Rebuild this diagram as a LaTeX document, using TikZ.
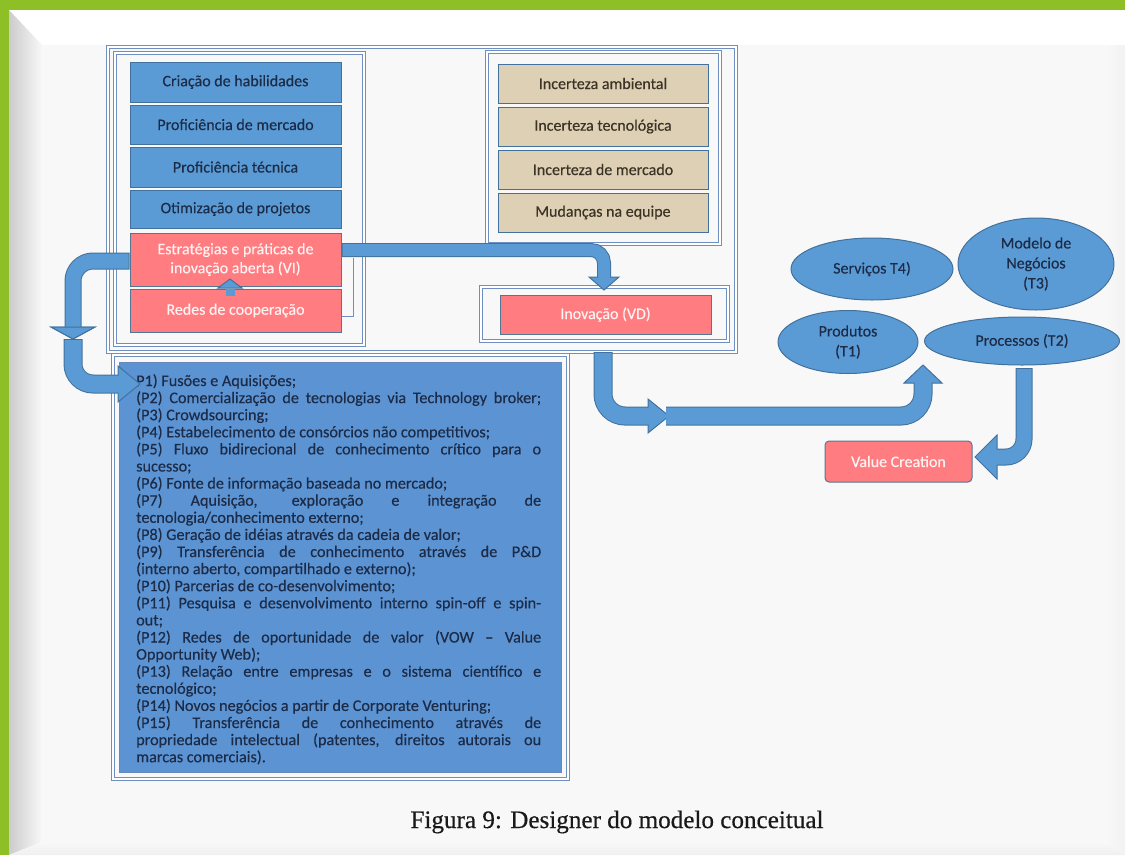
\documentclass[tikz,border=0pt]{standalone}
\usepackage{fontspec}
\setmainfont{Carlito}[FakeBold=0.35]
\newfontfamily\capfont{Liberation Serif}[FakeBold=0.5]
\usetikzlibrary{shapes.geometric,calc}
\definecolor{greenbar}{HTML}{8FBF26}
\definecolor{boxblue}{HTML}{5B9BD5}
\definecolor{bordblue}{HTML}{41719C}
\definecolor{framec}{HTML}{6F8FC0}
\definecolor{boxred}{HTML}{FF7C80}
\definecolor{boxtan}{HTML}{DDD0B5}
\definecolor{navytext}{HTML}{1C2B47}
\definecolor{browntext}{HTML}{3B3326}
\definecolor{redtext}{HTML}{FFF2F2}
\definecolor{pfill}{HTML}{5C94D3}
\definecolor{pagebg}{HTML}{F8F8F8}
\tikzset{
  frame/.style={draw=framec, line width=1pt, double=white, double distance=1.2pt},
  bluebox/.style={rectangle, draw=bordblue, line width=1pt, fill=boxblue, minimum width=211, text=navytext, font=\fontsize{16}{19}\selectfont, inner sep=0pt},
  redbox/.style={rectangle, draw=bordblue!70!gray, line width=1pt, fill=boxred, minimum width=211, text=redtext, font=\fontsize{16}{19}\selectfont, align=center, inner sep=0pt},
  tanbox/.style={rectangle, draw=bordblue, line width=1pt, fill=boxtan, minimum width=210, text=browntext, font=\fontsize{16}{19}\selectfont, inner sep=0pt},
  ell/.style={ellipse, draw=bordblue, line width=1pt, fill=boxblue, text=navytext, font=\fontsize{16}{20}\selectfont, align=center, inner sep=0pt},
  shaftout/.style={draw=bordblue, line cap=butt},
  shaftin/.style={draw=boxblue, line cap=butt},
  headst/.style={fill=boxblue, draw=bordblue, line width=1pt, line join=miter},
}
\begin{document}
\begin{tikzpicture}[x=1pt,y=-1pt]
\useasboundingbox (0,0) rectangle (1125,855);
% background
\fill[greenbar] (0,0) rectangle (1125,855);
\fill[white] (9,10) rectangle (1125,855);
\fill[pagebg] (42,45) rectangle (1106,842);
\shade[left color=gray!40, right color=pagebg] (9,10) -- (42,45) -- (42,842) -- (9,855) -- cycle;
\shade[left color=pagebg, right color=gray!10] (1106,45) -- (1125,45) -- (1125,855) -- (1106,842) -- cycle;
\shade[top color=pagebg, bottom color=gray!12] (42,842) -- (1106,842) -- (1125,855) -- (9,855) -- cycle;

% frames
\draw[frame] (108,47) rectangle (736,352);
\draw[frame] (115,53) rectangle (364,345);
\draw[frame] (487,52) rectangle (720,244);
\draw[frame] (481,287) rectangle (728,341);
\draw[frame] (113,355) rectangle (568,779);

% left boxes
\node[bluebox, minimum height=40] (crias) at (235.5,82) {Criação de habilidades};
\node[bluebox, minimum height=39] (profm) at (235.5,124.5) {Proficiência de mercado};
\node[bluebox, minimum height=40] (proft) at (235.5,167) {Proficiência técnica};
\node[bluebox, minimum height=38] (otim) at (235.5,209) {Otimização de projetos};
\node[redbox, minimum height=53] (estr) at (235.5,259.5) {Estratégias e práticas de\\inovação aberta (VI)};
\node[redbox, minimum height=43] (redes) at (235.5,310.5) {Redes de cooperação};

% bracket line
\coordinate (brA) at (353,258);
\coordinate (brB) at (353,316);
\draw[draw=framec, line width=0.9pt] (brA) -- (brB) -- (redes.east |- brB);

% small up arrow
\coordinate (sa0) at (230,296);
\coordinate (sa1) at (230,288);
\filldraw[headst] (218,288) -- (242,288) -- (230,279) -- cycle;
\draw[shaftin, line width=9pt] (sa0) -- ($(sa1)+(0,1)$);

% right boxes
\node[tanbox, minimum height=39] (inc1) at (603,83.5) {Incerteza ambiental};
\node[tanbox, minimum height=39] (inc2) at (603,126.5) {Incerteza tecnológica};
\node[tanbox, minimum height=39] (inc3) at (603,169.5) {Incerteza de mercado};
\node[tanbox, minimum height=39] (mud) at (603,212.5) {Mudanças na equipe};
\node[redbox, minimum height=39] (inov) at (605.5,314.5) {Inovação (VD)};

% P box
\node[rectangle, draw=framec!80!bordblue, line width=1pt, fill=pfill, minimum width=442, minimum height=410, inner sep=0] (pbox) at (340,567) {};
\node[anchor=base west, inner sep=0, text=navytext, font=\fontsize{16.2}{17.1}\selectfont] (ptext) at (136,386) {\parbox[t]{405pt}{\setlength{\baselineskip}{17.1pt}%
P1) Fusões e Aquisições;\\
\makebox[\linewidth][s]{(P2) Comercialização de tecnologias via Technology broker;}\\
(P3) Crowdsourcing;\\
(P4) Estabelecimento de consórcios não competitivos;\\
\makebox[\linewidth][s]{(P5) Fluxo bidirecional de conhecimento crítico para o}\\
sucesso;\\
(P6) Fonte de informação baseada no mercado;\\
\makebox[\linewidth][s]{(P7) Aquisição, exploração e integração de}\\
tecnologia/conhecimento externo;\\
(P8) Geração de idéias através da cadeia de valor;\\
\makebox[\linewidth][s]{(P9) Transferência de conhecimento através de P\&D}\\
(interno aberto, compartilhado e externo);\\
(P10) Parcerias de co-desenvolvimento;\\
\makebox[\linewidth][s]{(P11) Pesquisa e desenvolvimento interno spin-off e spin-}\\
out;\\
\makebox[\linewidth][s]{(P12) Redes de oportunidade de valor (VOW – Value}\\
Opportunity Web);\\
\makebox[\linewidth][s]{(P13) Relação entre empresas e o sistema científico e}\\
tecnológico;\\
(P14) Novos negócios a partir de Corporate Venturing;\\
\makebox[\linewidth][s]{(P15) Transferência de conhecimento através de}\\
\makebox[\linewidth][s]{propriedade intelectual (patentes, direitos autorais ou}\\
marcas comerciais).}};

% ellipses
\node[ell, minimum width=162, minimum height=62] (serv) at (872,269) {Serviços T4)};
\node[ell, minimum width=156, minimum height=92] (mod) at (1036,264) {Modelo de\\Negócios\\(T3)};
\node[ell, minimum width=140, minimum height=63] (prod) at (848,342) {Produtos\\(T1)};
\node[ell, minimum width=195, minimum height=48] (proc) at (1022,341) {Processos (T2)};

% value creation
\node[rectangle, rounded corners=4pt, draw=bordblue!60!gray, line width=1pt, fill=boxred, minimum width=147, minimum height=41, text=redtext, font=\fontsize{16}{19}\selectfont, inner sep=0] (val) at (898.5,461.5) {Value Creation};

% Arrow A: estr -> inov
\coordinate (aS) at (estr.east |- 0,250);
\coordinate (aB) at (604,277);
\draw[shaftout, line width=14pt, rounded corners=13pt] (aS) -| (aB);
\filldraw[headst] (589,277) -- (619,277) -- (604,290) -- cycle;
\draw[shaftin, line width=12pt, rounded corners=13pt] ($(aS)+(1,0)$) -| ($(aB)+(0,1)$);

% Arrow B: estr -> left -> down -> pbox
\coordinate (bS) at (estr.west |- 0,261);
\coordinate (bB) at (73,327);
\coordinate (bC) at (73,336);
\coordinate (bD) at (118,384);
\draw[shaftout, line width=17pt, rounded corners=20pt] (bS) -| (bB);
\filldraw[headst] (51,327) -- (95,327) -- (73,339) -- cycle;
\draw[shaftin, line width=15pt, rounded corners=20pt] ($(bS)+(-1,0)$) -| ($(bB)+(0,1)$);
\draw[shaftout, line width=19pt, rounded corners=20pt] ($(bC)+(0,3)$) |- (bD);
\filldraw[headst] (118,366) -- (118,402) -- (140,384) -- cycle;
\draw[shaftin, line width=17pt, rounded corners=20pt] ($(bC)+(0,4)$) |- ($(bD)+(1,0)$);
\filldraw[headst] (51,327) -- (95,327) -- (73,339) -- cycle;

% Arrow C: inov -> products/processes
\coordinate (cS) at (603,352);
\coordinate (cB) at (648,416);
\coordinate (cC) at (666,416);
\coordinate (cD) at (923,383);
\draw[shaftout, line width=19pt, rounded corners=22pt] (cS) |- (cB);
\draw[shaftout, line width=19pt, rounded corners=22pt] (cC) -| (cD);
\filldraw[headst] (648,399) -- (648,433) -- (669,416) -- cycle;
\filldraw[headst] (904,383) -- (942,383) -- (923,365) -- cycle;
\draw[shaftin, line width=17pt, rounded corners=22pt] ($(cS)+(0,1)$) |- ($(cB)+(1,0)$);
\draw[shaftin, line width=17pt, rounded corners=22pt] (cC) -| ($(cD)+(0,-1)$);

% Arrow D: processos -> value creation
\coordinate (dS) at (1024,368);
\coordinate (dB) at (997,457);
\draw[shaftout, line width=17pt, rounded corners=18pt] (dS) |- (dB);
\filldraw[headst] (997,435) -- (997,479) -- (975,457) -- cycle;
\draw[shaftin, line width=15pt, rounded corners=18pt] ($(dS)+(0,1)$) |- ($(dB)+(-1,0)$);

% caption
\node[inner sep=0, text=black!90] (cap) at (617,822) {\resizebox{413pt}{!}{\capfont\fontsize{20}{24}\selectfont Figura 9: Designer do modelo conceitual}};
\end{tikzpicture}
\end{document}
